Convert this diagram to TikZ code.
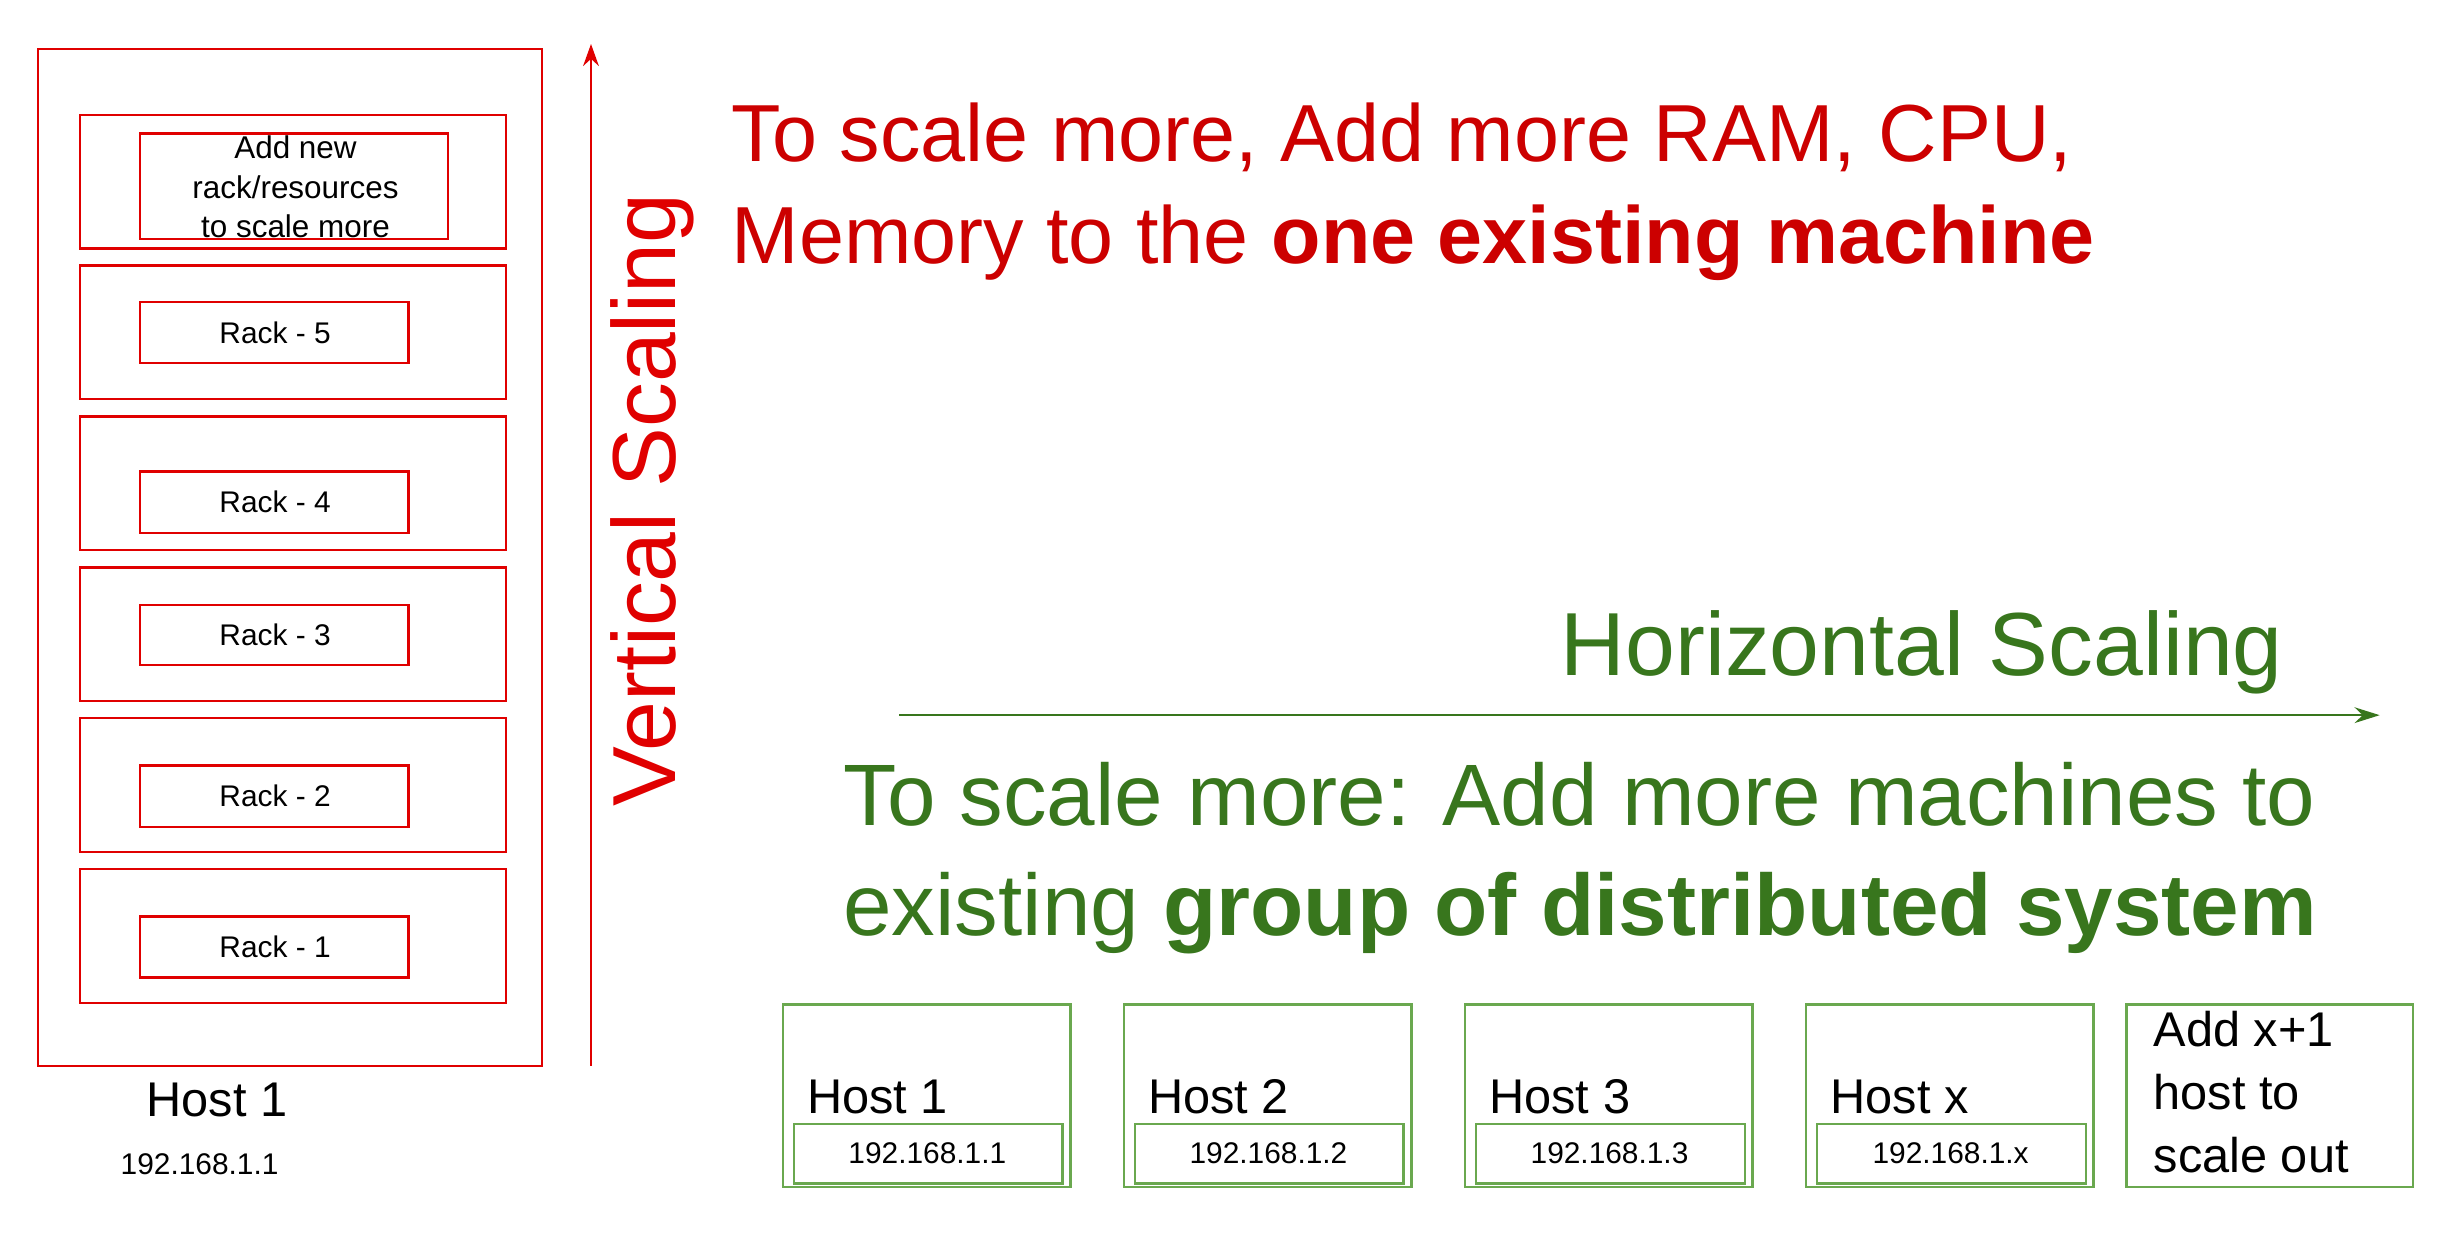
\documentclass[tikz,border=0pt]{standalone}
\usepackage{fontspec}
\setmainfont{Liberation Sans}
\usetikzlibrary{arrows.meta}
\definecolor{vred}{HTML}{E00000}
\definecolor{tred}{HTML}{CC0000}
\definecolor{hgreen}{HTML}{38761D}
\definecolor{bgreen}{HTML}{6AA84F}
\tikzset{
  rackbox/.style={draw=vred, line width=1.5pt},
  hostbox/.style={draw=bgreen, line width=1.5pt},
  smalltxt/.style={font=\fontsize{19}{24}\selectfont},
}
\begin{document}
\begin{tikzpicture}[x=1pt,y=-1pt]
\useasboundingbox (0,0) rectangle (1560,797);
%% vertical side
\draw[rackbox] (24,31) rectangle (345,678);
\foreach \top/\itop/\ibot/\name in {169/192/231/5, 265/300/339/4, 361/385/423/3, 457/487/526/2, 553/583/622/1} {
  \draw[rackbox] (51,\top) rectangle (322,\top+85);
  \draw[rackbox] (89,\itop) rectangle (260,\ibot);
  \node[smalltxt] (rack\name) at (175,{(\itop+\ibot)/2}) {Rack - \name};
}
\draw[rackbox] (51,73) rectangle (322,158);
\draw[rackbox] (89,85) rectangle (285,152);
\node[smalltxt, align=center, font=\fontsize{20}{25}\selectfont] (addrack) at (188,119) {Add new\\rack/resources\\to scale more};
\node[font=\fontsize{31}{36}\selectfont] (host) at (138,700) {Host 1};
\node[smalltxt] (hostip) at (127,741) {192.168.1.1};
\coordinate (vbot) at (376,678);
\coordinate (vtop) at (376,28);
\draw[vred, line width=1.5pt, -{Stealth[length=14pt,width=10pt]}] (vbot) -- (vtop);
\node[vred, rotate=90, font=\fontsize{57}{60}\selectfont] (vlabel) at (415,318) {Vertical Scaling};
\node[tred, anchor=west, align=left, font=\fontsize{51.5}{65}\selectfont] (vtext) at (462,122)
  {To scale more, Add more RAM, CPU,\\Memory to the \textbf{one existing machine}};
%% horizontal side
\coordinate (hleft) at (572,455);
\coordinate (hright) at (1514,455);
\draw[hgreen, line width=1.5pt, -{Stealth[length=16pt,width=10pt]}] (hleft) -- (hright);
\node[hgreen, anchor=east, font=\fontsize{57}{60}\selectfont] (hlabel) at (1456,415) {Horizontal Scaling};
\node[hgreen, anchor=west, align=left, font=\fontsize{55.5}{70}\selectfont] (htext) at (533,546)
  {To scale more: Add more machines to\\existing \textbf{group of distributed system}};
\foreach \x/\name/\ip in {498/1/1, 715/2/2, 932/3/3, 1149/x/x} {
  \draw[hostbox] (\x,639) rectangle (\x+183,755);
  \draw[hostbox] (\x+7,715) rectangle (\x+178,753);
  \node[anchor=west, font=\fontsize{31}{36}\selectfont] (host\name) at (\x+12,698) {Host \name};
  \node[smalltxt] (ip\name) at (\x+92,734) {192.168.1.\ip};
}
\draw[hostbox] (1353,639) rectangle (1535,755);
\node[anchor=north west, align=left, font=\fontsize{31}{40}\selectfont, inner sep=0pt] (addhost) at (1370,643) {Add x+1\\host to\\scale out};
\end{tikzpicture}
\end{document}
